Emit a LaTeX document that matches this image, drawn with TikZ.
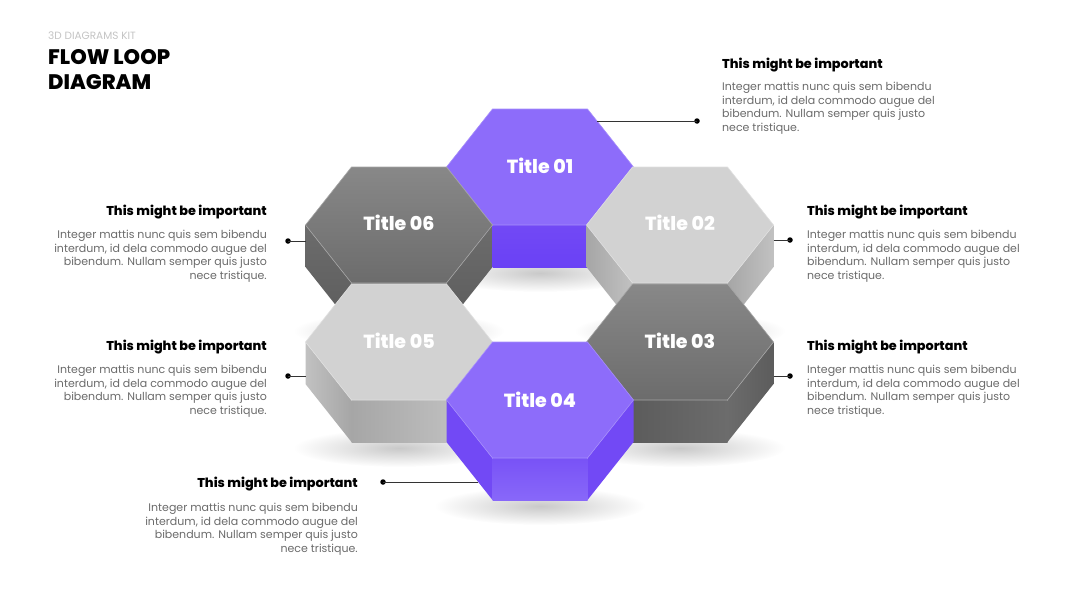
\documentclass[tikz,border=0pt]{standalone}
\usepackage{fontspec}
\setmainfont{Poppins}
\newfontfamily\heavyfont{Poppins}[UprightFont=* ExtraBold]
\usepackage{tikz}
\usetikzlibrary{positioning, calc, fadings}
\definecolor{hexPurple}{HTML}{8D6CFA}
\definecolor{hexPurpleEdge}{HTML}{A68EFB}
\definecolor{hexPurpleSide}{HTML}{7249F5}
\definecolor{hexPurpleDeep}{HTML}{6A41F5}
\definecolor{hexPurpleLite}{HTML}{8868F9}
\definecolor{hexDarkTop}{HTML}{888888}
\definecolor{hexDarkBot}{HTML}{6C6C6C}
\definecolor{hexDarkSide}{HTML}{5C5C5C}
\definecolor{hexLightTop}{HTML}{D2D2D2}
\definecolor{hexLightSide}{HTML}{A6A6A6}
\definecolor{bodygray}{HTML}{6B6B6B}
\definecolor{kitgray}{HTML}{C4C4C4}
\colorlet{pinline}{black!80}
\tikzfading[name=softshadow, inner color=transparent!15, outer color=transparent!100]

\begin{document}
\begin{tikzpicture}[x=1pt, y=-1pt,
    hextitle/.style={text=white, font=\heavyfont\fontsize{19}{19}\selectfont},
    headline/.style={font=\heavyfont\fontsize{12.8}{13}\selectfont, text=black, inner sep=0pt},
    bodytext/.style={font=\fontsize{11}{13.6}\selectfont, text=bodygray, inner sep=0pt},
    pin/.style={pinline, line width=0.9pt},
    dot/.style={circle, fill=black, inner sep=0pt, minimum size=5.5pt},
    hexshadow/.style={black, opacity=0.25, path fading=softshadow}]
  \useasboundingbox[fill=white] (0,0) rectangle (1080,608);

  % header
  \node[anchor=base west, inner sep=0pt, text=kitgray, font=\fontsize{10.5}{10.5}\selectfont] (kit) at (48,39) {3D DIAGRAMS KIT};
  \node[anchor=north west, inner sep=0pt, font=\heavyfont\fontsize{21}{25}\selectfont, align=left] (heading) at (48,49) {FLOW LOOP\\DIAGRAM};

  % Title 01
  \begin{scope}[shift={(540,167)}]
    \fill[hexshadow] (0,106) ellipse (105 and 19);
    \fill[hexPurpleSide] (-93.5,0) -- (-47.5,58) -- (-47.5,100) -- (-93.5,42) -- cycle;
    \fill[hexPurpleSide] (93.5,0) -- (47.5,58) -- (47.5,100) -- (93.5,42) -- cycle;
    \shade[top color=hexPurpleSide, bottom color=hexPurpleDeep] (-47.5,58) rectangle (47.5,100);
    \fill[hexPurple, draw=hexPurpleEdge, line width=0.6pt]
      (-93.5,0) -- (-47.5,-58) -- (47.5,-58) -- (93.5,0) -- (47.5,58) -- (-47.5,58) -- cycle;
    \coordinate (h01pin) at (57,-46);
  \end{scope}

  % Title 06
  \begin{scope}[shift={(399,225)}]
    \fill[hexshadow] (0,106) ellipse (105 and 19);
    \shade[top color=hexDarkBot, bottom color=hexDarkSide] (-93.5,0) -- (-47.5,58) -- (-47.5,100) -- (-93.5,42) -- cycle;
    \shade[top color=hexDarkBot, bottom color=hexDarkSide] (93.5,0) -- (47.5,58) -- (47.5,100) -- (93.5,42) -- cycle;
    \shade[left color=hexDarkSide, right color=hexDarkBot] (-47.5,58) rectangle (47.5,100);
    \shade[top color=hexDarkTop, bottom color=hexDarkBot, draw=black!35, line width=0.6pt]
      (-93.5,0) -- (-47.5,-58) -- (47.5,-58) -- (93.5,0) -- (47.5,58) -- (-47.5,58) -- cycle;
    \coordinate (h06pin) at (-93.5,16);
  \end{scope}

  % Title 02
  \begin{scope}[shift={(680,225)}]
    \fill[hexshadow] (0,106) ellipse (105 and 19);
    \shade[left color=hexLightSide, right color=hexLightTop!92!black] (-93.5,0) -- (-47.5,58) -- (-47.5,100) -- (-93.5,42) -- cycle;
    \shade[left color=hexLightSide, right color=hexLightTop!92!black] (93.5,0) -- (47.5,58) -- (47.5,100) -- (93.5,42) -- cycle;
    \shade[left color=hexLightSide, right color=hexLightTop!90!black] (-47.5,58) rectangle (47.5,100);
    \fill[hexLightTop, draw=white!88!black, line width=0.6pt]
      (-93.5,0) -- (-47.5,-58) -- (47.5,-58) -- (93.5,0) -- (47.5,58) -- (-47.5,58) -- cycle;
    \coordinate (h02pin) at (93.5,15);
  \end{scope}

  % Title 05
  \begin{scope}[shift={(399,342)}]
    \fill[hexshadow] (0,106) ellipse (105 and 19);
    \shade[left color=hexLightTop!92!black, right color=hexLightSide] (-93.5,0) -- (-47.5,58) -- (-47.5,100) -- (-93.5,42) -- cycle;
    \shade[left color=hexLightSide, right color=hexLightTop!92!black] (93.5,0) -- (47.5,58) -- (47.5,100) -- (93.5,42) -- cycle;
    \shade[left color=hexLightSide, right color=hexLightTop!90!black] (-47.5,58) rectangle (47.5,100);
    \fill[hexLightTop, draw=white!88!black, line width=0.6pt]
      (-93.5,0) -- (-47.5,-58) -- (47.5,-58) -- (93.5,0) -- (47.5,58) -- (-47.5,58) -- cycle;
    \coordinate (h05pin) at (-93.5,34);
  \end{scope}

  % Title 03
  \begin{scope}[shift={(680,342)}]
    \fill[hexshadow] (0,106) ellipse (105 and 19);
    \shade[top color=hexDarkBot, bottom color=hexDarkSide] (-93.5,0) -- (-47.5,58) -- (-47.5,100) -- (-93.5,42) -- cycle;
    \shade[left color=hexDarkBot, right color=hexDarkSide] (93.5,0) -- (47.5,58) -- (47.5,100) -- (93.5,42) -- cycle;
    \shade[left color=hexDarkSide, right color=hexDarkBot] (-47.5,58) rectangle (47.5,100);
    \shade[top color=hexDarkTop, bottom color=hexDarkBot, draw=black!35, line width=0.6pt]
      (-93.5,0) -- (-47.5,-58) -- (47.5,-58) -- (93.5,0) -- (47.5,58) -- (-47.5,58) -- cycle;
    \coordinate (h03pin) at (93.5,34);
  \end{scope}

  % Title 04
  \begin{scope}[shift={(540,400)}]
    \fill[hexshadow] (0,106) ellipse (105 and 19);
    \fill[hexPurpleSide] (-93.5,0) -- (-47.5,58) -- (-47.5,100) -- (-93.5,42) -- cycle;
    \fill[hexPurpleSide] (93.5,0) -- (47.5,58) -- (47.5,100) -- (93.5,42) -- cycle;
    \shade[top color=hexPurpleSide!70!hexPurpleLite, bottom color=hexPurpleLite] (-47.5,58) rectangle (47.5,100);
    \fill[hexPurple, draw=hexPurpleEdge, line width=0.6pt]
      (-93.5,0) -- (-47.5,-58) -- (47.5,-58) -- (93.5,0) -- (47.5,58) -- (-47.5,58) -- cycle;
    \coordinate (h04pin) at (-62,82);
  \end{scope}

  % titles on the top faces
  \node[hextitle] (t01) at (540,166) {Title 01};
  \node[hextitle] (t02) at (680,223) {Title 02};
  \node[hextitle] (t03) at (680,341) {Title 03};
  \node[hextitle] (t04) at (540,400) {Title 04};
  \node[hextitle] (t05) at (399,341) {Title 05};
  \node[hextitle] (t06) at (399,223) {Title 06};

  % pins
  \node[dot] (d01) at (697,121) {};
  \node[dot] (d02) at (790,240) {};
  \node[dot] (d03) at (790,376) {};
  \node[dot] (d04) at (383,482) {};
  \node[dot] (d05) at (288,376) {};
  \node[dot] (d06) at (288,241) {};
  \draw[pin] (h01pin) -- (d01.center);
  \draw[pin] (h02pin) -- (d02.center);
  \draw[pin] (h03pin) -- (d03.center);
  \draw[pin] (h04pin) -- (d04.center);
  \draw[pin] (h05pin) -- (d05.center);
  \draw[pin] (h06pin) -- (d06.center);

  % text blocks
  \node[headline, anchor=base west] (head01) at (722,68) {This might be important};
  \node[bodytext, anchor=north west, align=left] (body01) at (722,82)
    {Integer mattis nunc quis sem bibendu\\interdum, id dela commodo augue del\\bibendum. Nullam semper quis justo\\nece tristique.};
  \node[headline, anchor=base west] (head02) at (807,215) {This might be important};
  \node[bodytext, anchor=north west, align=left] (body02) at (807,230)
    {Integer mattis nunc quis sem bibendu\\interdum, id dela commodo augue del\\bibendum. Nullam semper quis justo\\nece tristique.};
  \node[headline, anchor=base west] (head03) at (807,350) {This might be important};
  \node[bodytext, anchor=north west, align=left] (body03) at (807,365)
    {Integer mattis nunc quis sem bibendu\\interdum, id dela commodo augue del\\bibendum. Nullam semper quis justo\\nece tristique.};
  \node[headline, anchor=base east] (head06) at (267,215) {This might be important};
  \node[bodytext, anchor=north east, align=right] (body06) at (267,230)
    {Integer mattis nunc quis sem bibendu\\interdum, id dela commodo augue del\\bibendum. Nullam semper quis justo\\nece tristique.};
  \node[headline, anchor=base east] (head05) at (267,350) {This might be important};
  \node[bodytext, anchor=north east, align=right] (body05) at (267,365)
    {Integer mattis nunc quis sem bibendu\\interdum, id dela commodo augue del\\bibendum. Nullam semper quis justo\\nece tristique.};
  \node[headline, anchor=base east] (head04) at (358,487) {This might be important};
  \node[bodytext, anchor=north east, align=right] (body04) at (358,503)
    {Integer mattis nunc quis sem bibendu\\interdum, id dela commodo augue del\\bibendum. Nullam semper quis justo\\nece tristique.};
\end{tikzpicture}
\end{document}
